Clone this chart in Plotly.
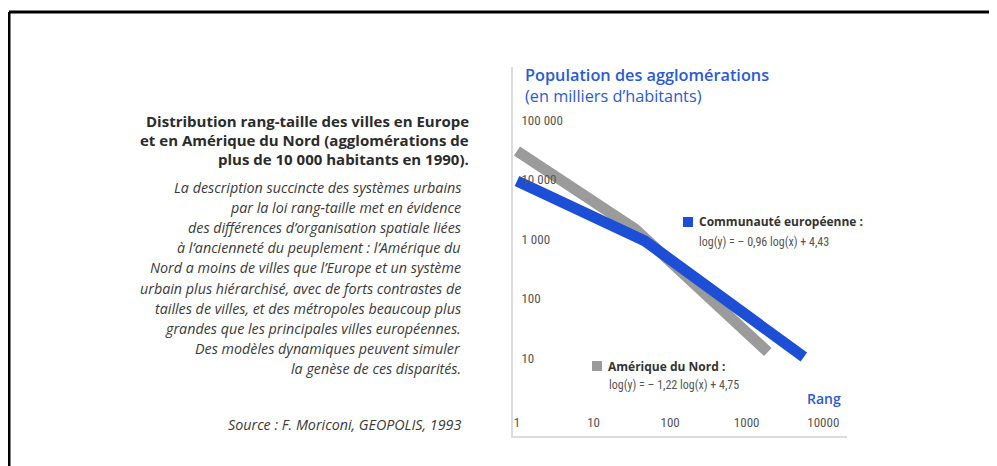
import plotly.graph_objects as go

# ---- data ----
rank_amerique = [1, 35, 1890]
pop_amerique = [30100, 1470, 12.6]
rank_europe = [1, 47, 5580]
pop_europe = [9450, 925, 10.4]

x_tickvals = [1, 10, 100, 1000, 10000]
x_ticktext = ["1", "10", "100", "1000", "10000"]
y_tickvals = [10, 100, 1000, 10000, 100000]
y_ticktext = ["10", "100", "1 000", "10 000", "100 000"]

title_lines = ["Distribution rang-taille des villes en Europe",
               "et en Amérique du Nord (agglomérations de",
               "plus de 10 000 habitants en 1990)."]
body_lines = ["La description succincte des systèmes urbains",
              "par la loi rang-taille met en évidence",
              "des différences d’organisation spatiale liées",
              "à l’ancienneté du peuplement : l’Amérique du",
              "Nord a moins de villes que l’Europe et un système",
              "urbain plus hiérarchisé, avec de forts contrastes de",
              "tailles de villes, et des métropoles beaucoup plus",
              "grandes que les principales villes européennes.",
              "Des modèles dynamiques peuvent simuler",
              "la genèse de ces disparités."]
source_text = "Source : F. Moriconi, GEOPOLIS, 1993"
chart_title = ["Population des agglomérations", "(en milliers d’habitants)"]
legend_eu = ["Communauté européenne :", "log(y) = – 0,96 log(x) + 4,43"]
legend_na = ["Amérique du Nord :", "log(y) = – 1,22 log(x) + 4,75"]
x_title = "Rang"

# ---- layout geometry (reference pixel coords) ----
W, H = 997, 466
OX, OY = 8, 8          # default page body margin
L, R, T, B = 513, 847, 67, 436
PW, PH = R - L, B - T

def px(x):
    return (x - L) / PW

def py(y):
    return (B - y) / PH

BLUE = "#1d4fd6"
TXTBLUE = "#2a5bd4"
GRAY = "#9b9b9b"
SANS = "Open Sans, Noto Sans, sans-serif"
NARROW = "Liberation Sans Narrow, Roboto Condensed, DejaVu Sans Condensed, Roboto, sans-serif"

fig = go.Figure()
fig.add_trace(go.Scatter(x=rank_amerique, y=pop_amerique, mode="lines",
                         line=dict(color=GRAY, width=11), hoverinfo="skip",
                         showlegend=False))
fig.add_trace(go.Scatter(x=rank_europe, y=pop_europe, mode="lines",
                         line=dict(color=BLUE, width=11), hoverinfo="skip",
                         showlegend=False))

ann = []
def A(text, x, y, size, color, family=SANS, xanchor="left", weight="normal", style="normal"):
    ann.append(dict(text=text, x=px(x), y=py(y), xref="paper", yref="paper",
                    xanchor=xanchor, yanchor="middle", showarrow=False,
                    font=dict(size=size, color=color, family=family,
                              weight=weight, style=style)))

# left text block
for i, t in enumerate(title_lines):
    A(t, 471, 121 + 19 * i, 15, "#2b2b2b", xanchor="right", weight="bold")
for i, t in enumerate(body_lines):
    A(t, 463, 187 + 20.2 * i, 14.3, "#3a3a3a", xanchor="right", style="italic")
A(source_text, 463, 424, 14.3, "#3a3a3a", xanchor="right", style="italic")

# chart titles
A(chart_title[0], 523, 75, 16.3, TXTBLUE, weight=600)
A(chart_title[1], 523, 96, 16.3, TXTBLUE)
A(x_title, 824, 398, 14, TXTBLUE, xanchor="center", weight=600)

# legend-like labels
A(legend_eu[0], 697, 222, 12, "#333333", weight="bold")
A(legend_eu[1], 697, 242, 12, "#555555", family=NARROW)
A(legend_na[0], 606, 366, 12, "#333333", weight="bold")
A(legend_na[1], 607, 385, 12, "#555555", family=NARROW)

shapes = [
    dict(type="rect", xref="paper", yref="paper", x0=px(683), x1=px(693),
         y0=py(227), y1=py(217), fillcolor=BLUE, line=dict(width=0)),
    dict(type="rect", xref="paper", yref="paper", x0=px(592), x1=px(602),
         y0=py(371), y1=py(361), fillcolor=GRAY, line=dict(width=0)),
    # outer frame (top and left)
    dict(type="line", xref="paper", yref="paper", x0=px(9), x1=px(9),
         y0=py(470), y1=py(12), line=dict(color="black", width=3)),
    dict(type="line", xref="paper", yref="paper", x0=px(9), x1=px(1000),
         y0=py(12), y1=py(12), line=dict(color="black", width=3)),
]

fig.update_layout(
    width=W - OX, height=H - OY,
    margin=dict(l=L - OX, r=W - R, t=T - OY, b=H - B, pad=0),
    paper_bgcolor="white", plot_bgcolor="white",
    annotations=ann, shapes=shapes,
    xaxis=dict(type="log", range=[-0.052, 4.31], tickvals=x_tickvals,
               ticktext=x_ticktext, ticklabelposition="inside",
               ticklabeloverflow="allow",
               ticklabelstandoff=6, ticks="", showgrid=False, zeroline=False,
               showline=True, linecolor="#dcdcdc", linewidth=2,
               tickfont=dict(family=NARROW, size=13, color="#555555")),
    yaxis=dict(type="log", range=[-0.31, 5.89], tickvals=y_tickvals,
               ticktext=y_ticktext, ticklabelposition="inside",
               ticklabeloverflow="allow",
               ticklabelstandoff=8, ticks="", showgrid=False, zeroline=False,
               showline=True, linecolor="#dcdcdc", linewidth=2,
               tickfont=dict(family=NARROW, size=13, color="#555555")),
)

fig.write_html("out.html")
